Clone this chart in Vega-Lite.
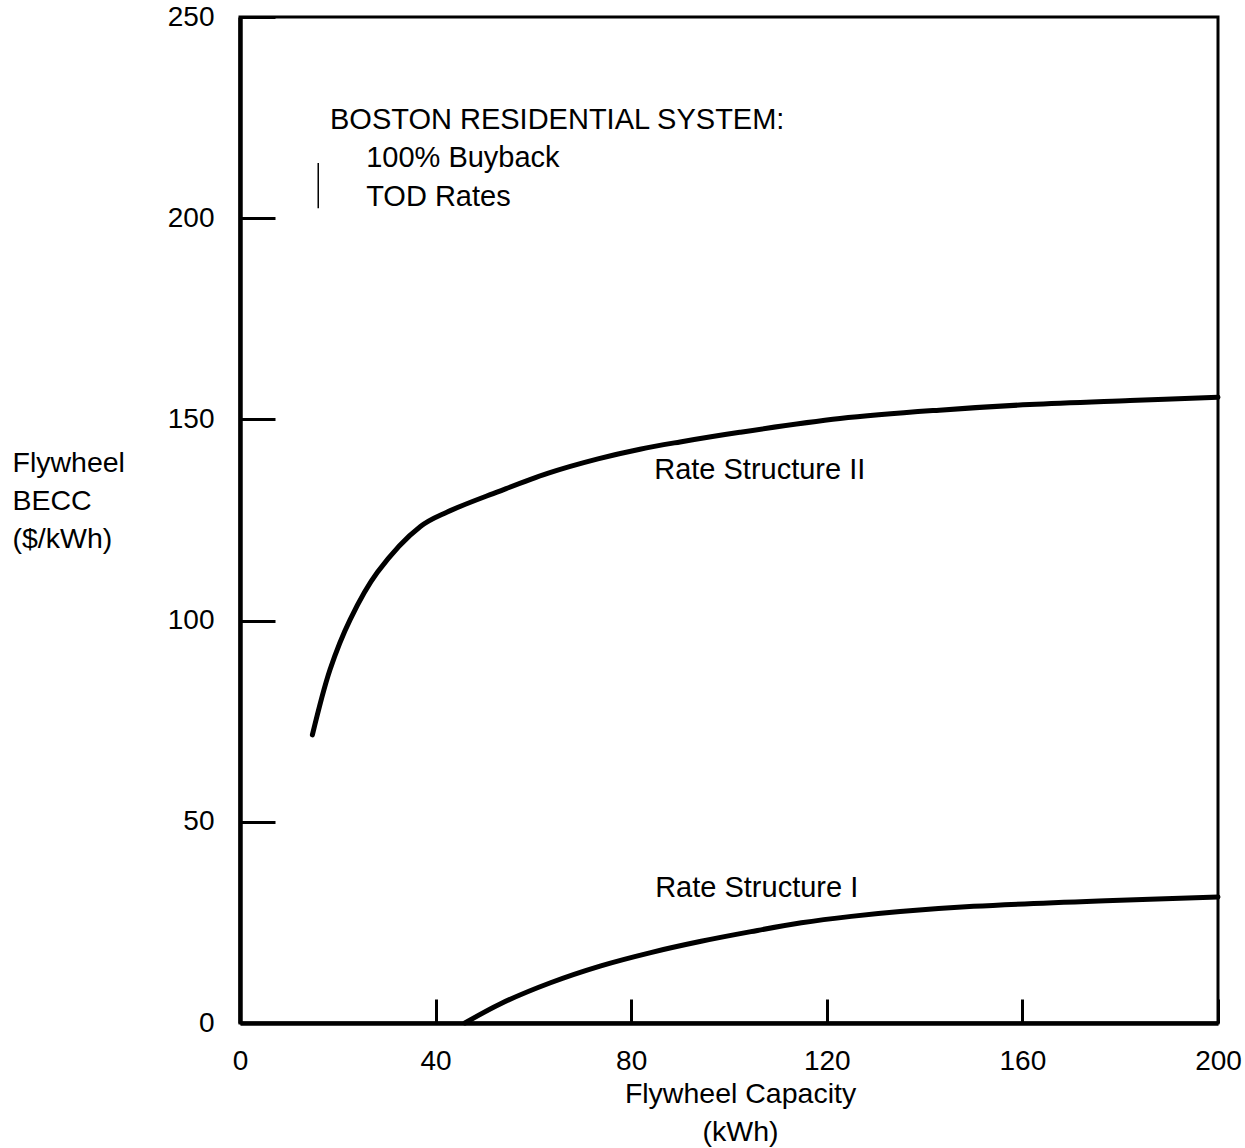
{
  "$schema": "https://vega.github.io/schema/vega-lite/v6.json",
  "autosize": {"type": "none"},
  "padding": {"left": 240, "top": 17, "right": 27, "bottom": 125},
  "width": 978,
  "height": 1006,
  "config": {
    "font": "Liberation Sans",
    "view": {"stroke": "black", "strokeWidth": 3},
    "axis": {
      "domainColor": "black",
      "domainWidth": 4.5,
      "tickColor": "black",
      "tickWidth": 3,
      "grid": false,
      "labelFont": "Liberation Sans",
      "labelColor": "black",
      "labelFontSize": 28,
      "titleFont": "Liberation Sans",
      "titleColor": "black",
      "titleFontSize": 28.5,
      "titleFontWeight": "normal",
      "titleLineHeight": 38
    }
  },
  "datasets": {
    "curves": [
      {"series": "II", "capacity": 14.8, "becc": 71.6},
      {"series": "II", "capacity": 18.4, "becc": 87.8},
      {"series": "II", "capacity": 22.5, "becc": 100.2},
      {"series": "II", "capacity": 28.1, "becc": 112.0},
      {"series": "II", "capacity": 36.9, "becc": 123.4},
      {"series": "II", "capacity": 42.4, "becc": 127.0},
      {"series": "II", "capacity": 52.7, "becc": 132.0},
      {"series": "II", "capacity": 62.9, "becc": 136.6},
      {"series": "II", "capacity": 73.2, "becc": 140.2},
      {"series": "II", "capacity": 81.8, "becc": 142.6},
      {"series": "II", "capacity": 90.0, "becc": 144.4},
      {"series": "II", "capacity": 102.2, "becc": 146.8},
      {"series": "II", "capacity": 122.7, "becc": 150.2},
      {"series": "II", "capacity": 143.0, "becc": 152.3},
      {"series": "II", "capacity": 161.5, "becc": 153.7},
      {"series": "II", "capacity": 182.0, "becc": 154.7},
      {"series": "II", "capacity": 200.0, "becc": 155.5},
      {"series": "I", "capacity": 46.0, "becc": 0.0},
      {"series": "I", "capacity": 53.3, "becc": 4.8},
      {"series": "I", "capacity": 63.5, "becc": 10.0},
      {"series": "I", "capacity": 73.8, "becc": 14.2},
      {"series": "I", "capacity": 84.0, "becc": 17.5},
      {"series": "I", "capacity": 94.3, "becc": 20.3},
      {"series": "I", "capacity": 104.5, "becc": 22.7},
      {"series": "I", "capacity": 114.8, "becc": 24.9},
      {"series": "I", "capacity": 125.0, "becc": 26.5},
      {"series": "I", "capacity": 135.0, "becc": 27.7},
      {"series": "I", "capacity": 150.0, "becc": 29.0},
      {"series": "I", "capacity": 177.0, "becc": 30.4},
      {"series": "I", "capacity": 200.0, "becc": 31.3}
    ],
    "notes": [
      {"label": "BOSTON RESIDENTIAL SYSTEM:", "capacity": 18.4, "becc": 224.4},
      {"label": "100% Buyback", "capacity": 25.8, "becc": 215.0},
      {"label": "TOD Rates", "capacity": 25.8, "becc": 205.3},
      {"label": "Rate Structure II", "capacity": 84.7, "becc": 137.4},
      {"label": "Rate Structure I", "capacity": 84.9, "becc": 33.5}
    ],
    "bracket": [
      {"capacity": 16.0, "low": 202.5, "high": 213.7}
    ]
  },
  "layer": [
    {
      "data": {"name": "curves"},
      "mark": {"type": "line", "color": "black", "strokeWidth": 5, "interpolate": "catmull-rom", "strokeCap": "round"},
      "encoding": {
        "x": {
          "field": "capacity",
          "type": "quantitative",
          "scale": {"domain": [0, 200], "nice": false, "zero": false},
          "axis": {
            "values": [0, 40, 80, 120, 160, 200],
            "tickSize": -24,
            "labelPadding": 48,
            "labelFlush": false,
            "title": ["Flywheel Capacity", "(kWh)"],
            "titleX": 500,
            "titleY": 79,
            "titleAlign": "center",
            "titleAnchor": null,
            "titleBaseline": "alphabetic"
          }
        },
        "y": {
          "field": "becc",
          "type": "quantitative",
          "scale": {"domain": [0, 250], "nice": false},
          "axis": {
            "values": [0, 50, 100, 150, 200, 250],
            "tickSize": -35,
            "labelPadding": 61,
            "labelFlush": false,
            "title": ["Flywheel", "BECC", "($/kWh)"],
            "titleAngle": 0,
            "titleAlign": "left",
            "titleBaseline": "alphabetic",
            "titleX": -228,
            "titleY": 454
          }
        },
        "detail": {"field": "series"}
      }
    },
    {
      "data": {"name": "notes"},
      "mark": {"type": "text", "align": "left", "baseline": "middle", "fontSize": 29, "font": "Liberation Sans", "color": "black"},
      "encoding": {
        "x": {"field": "capacity", "type": "quantitative"},
        "y": {"field": "becc", "type": "quantitative"},
        "text": {"field": "label"}
      }
    },
    {
      "data": {"name": "bracket"},
      "mark": {"type": "rule", "color": "black", "strokeWidth": 1.5},
      "encoding": {
        "x": {"field": "capacity", "type": "quantitative"},
        "y": {"field": "low", "type": "quantitative"},
        "y2": {"field": "high"}
      }
    }
  ]
}
